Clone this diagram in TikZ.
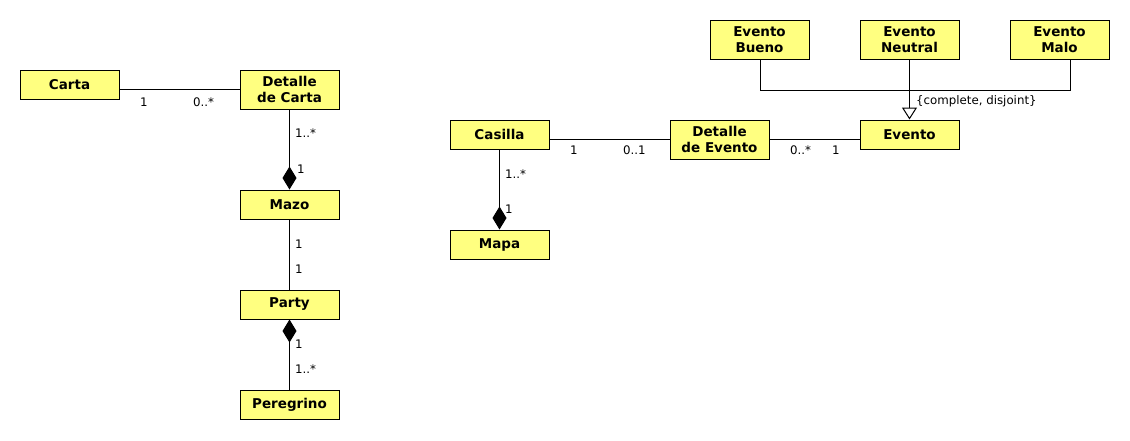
\documentclass[tikz,border=0pt]{standalone}
\usepackage{fontspec}
\setmainfont{DejaVu Sans}
\usetikzlibrary{arrows.meta}
\definecolor{classfill}{HTML}{FFFF80}
\tikzset{
  cls/.style={draw=black, fill=classfill, line width=1pt, minimum width=99pt, minimum height=29pt, inner sep=0pt, font=\fontsize{13.5}{15.5}\selectfont\bfseries, align=center},
  cls2/.style={cls, minimum height=39pt},
  conn/.style={line width=1pt},
  comp/.style={conn, -{Diamond[length=23pt,width=14pt]}},
  gen/.style={conn, -{Triangle[open,length=12pt,width=15pt,fill=white]}},
  lbl/.style={font=\fontsize{11.8}{13}\selectfont, inner sep=0pt, anchor=base west}
}
\begin{document}
\begin{tikzpicture}[x=1pt,y=-1pt]
\useasboundingbox (0,0) rectangle (1130,440);
% classes
\node[cls] (carta) at (69.5,84.5) {Carta};
\node[cls2] (detcarta) at (289.5,89.5) {Detalle\\de Carta};
\node[cls] (mazo) at (289.5,204.5) {Mazo};
\node[cls] (party) at (289.5,304.5) {Party};
\node[cls] (peregrino) at (289.5,404.5) {Peregrino};
\node[cls] (casilla) at (499.5,134.5) {Casilla};
\node[cls] (mapa) at (499.5,244.5) {Mapa};
\node[cls2] (detevento) at (719.5,139.5) {Detalle\\de Evento};
\node[cls] (evento) at (909.5,134.5) {Evento};
\node[cls2] (bueno) at (759.5,39.5) {Evento\\Bueno};
\node[cls2] (neutral) at (909.5,39.5) {Evento\\Neutral};
\node[cls2] (malo) at (1059.5,39.5) {Evento\\Malo};
% connectors
\draw[conn] (detcarta.west -| carta.east) -- (detcarta.west);
\draw[comp] (detcarta.south) -- (mazo.north);
\draw[conn] (mazo.south) -- (party.north);
\draw[comp] (peregrino.north) -- (party.south);
\draw[conn] (detevento.west -| casilla.east) -- (detevento.west);
\draw[comp] (casilla.south) -- (mapa.north);
\draw[conn] (detevento.east) -- (detevento.east -| evento.west);
\coordinate (jl) at (760,90);
\coordinate (jr) at (1070,90);
\draw[conn] (bueno.south -| jl) -- (jl) -- (jr) -- (jr |- malo.south);
\draw[gen] (neutral.south) -- (evento.north);
% labels
\node[lbl] (l1) at (140,106) {1};
\node[lbl] (l2) at (193,106) {0..*};
\node[lbl] (l3) at (295,137) {1..*};
\node[lbl] (l4) at (297,173) {1};
\node[lbl] (l5) at (295,248) {1};
\node[lbl] (l6) at (295,273) {1};
\node[lbl] (l7) at (295,348) {1};
\node[lbl] (l8) at (295,373) {1..*};
\node[lbl] (l9) at (505,178) {1..*};
\node[lbl] (l10) at (505,213) {1};
\node[lbl] (l11) at (570,154) {1};
\node[lbl] (l12) at (623,154) {0..1};
\node[lbl] (l13) at (790,154) {0..*};
\node[lbl] (l14) at (832,154) {1};
\node[lbl] (l15) at (916,104) {\{complete, disjoint\}};
\end{tikzpicture}
\end{document}
